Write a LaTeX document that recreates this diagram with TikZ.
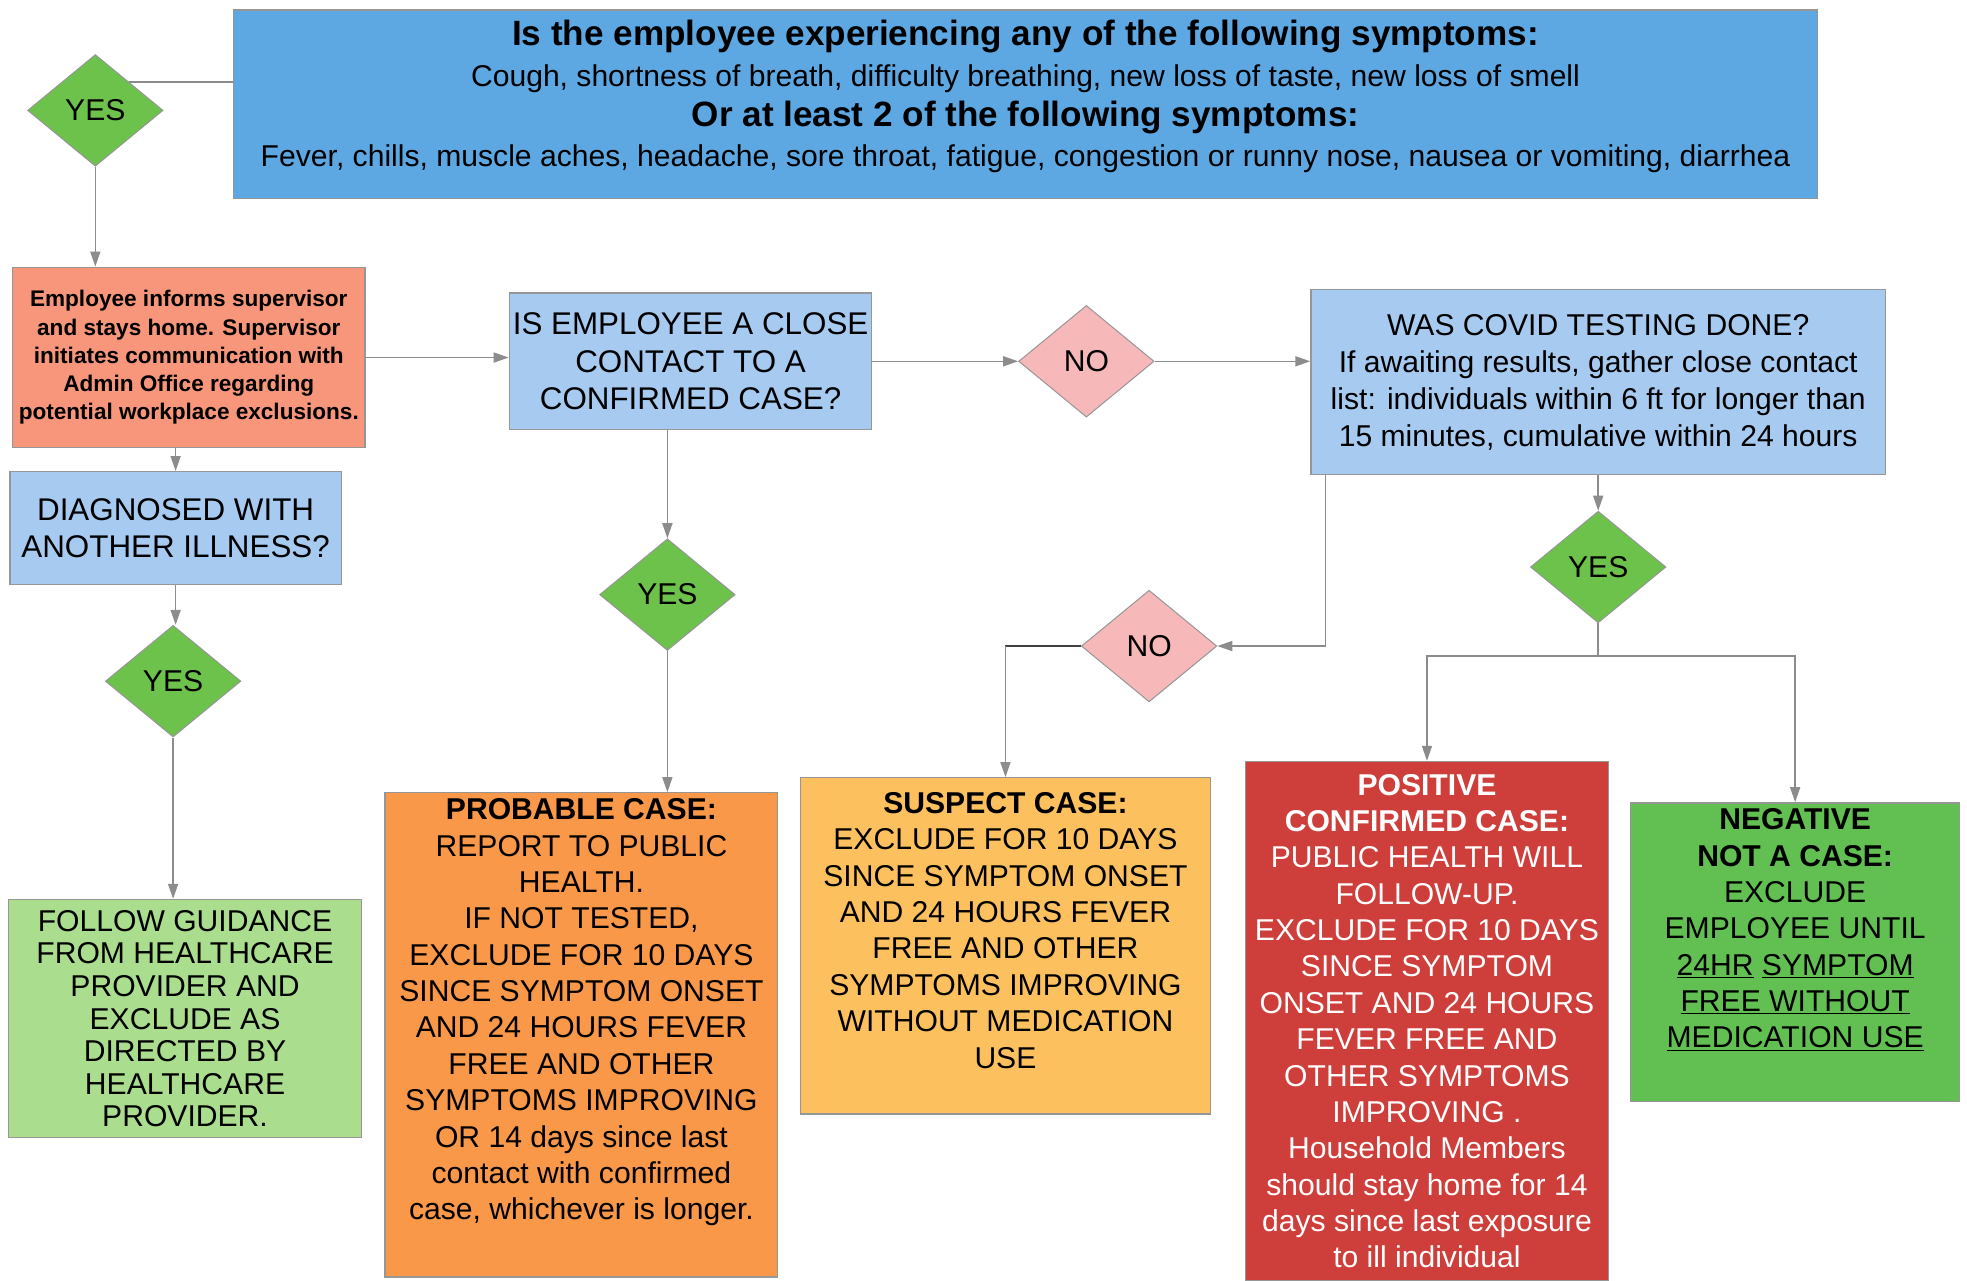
\documentclass[tikz,border=0pt]{standalone}
\usepackage{fontspec}
\setmainfont{Liberation Sans}
\usetikzlibrary{shapes.geometric,arrows.meta}

\definecolor{topblue}{RGB}{93,168,226}
\definecolor{askblue}{RGB}{166,202,240}
\definecolor{salmon}{RGB}{247,150,122}
\definecolor{yesgreen}{RGB}{108,194,74}
\definecolor{nopink}{RGB}{246,184,184}
\definecolor{guidegreen}{RGB}{170,222,142}
\definecolor{probable}{RGB}{248,152,72}
\definecolor{suspect}{RGB}{252,192,94}
\definecolor{posred}{RGB}{206,62,58}
\definecolor{neggreen}{RGB}{98,192,82}
\definecolor{edgegray}{RGB}{150,150,150}
\definecolor{wiregray}{RGB}{140,140,140}

\begin{document}
\begin{tikzpicture} [x = 1pt, y = -1pt,
  box/.style = {draw = edgegray, line width = 1pt, inner sep = 0pt, align = center, font = \fontsize{24}{29}\selectfont},
  choice/.style = {diamond, draw = edgegray, line width = 0.8pt, inner sep = 0pt, minimum width = 108pt, minimum height = 89pt, font = \fontsize{24}{29}\selectfont},
  yesdia/.style = {choice, fill = yesgreen},
  nodia/.style = {choice, fill = nopink},
  wire/.style = {draw = wiregray, line width = 1.2pt},
  flow/.style = {wire, -{Triangle[length = 12pt, width = 8pt]}}]
\useasboundingbox (0,0) rectangle (1568,1021);
% symptoms
\node[box, fill = topblue, minimum width = 1263pt, minimum height = 150pt, font = \fontsize{24}{32}\selectfont, text depth = 17pt] (symptoms) at (817.5,83)
  {{\fontsize{28}{32}\selectfont\bfseries Is the employee experiencing any of the following symptoms:}\\
   Cough, shortness of breath, difficulty breathing, new loss of taste, new loss of smell\\
   {\fontsize{28}{32}\selectfont\bfseries Or at least 2 of the following symptoms:}\\
   Fever, chills, muscle aches, headache, sore throat, fatigue, congestion or runny nose, nausea or vomiting, diarrhea};
\node[yesdia] (yestop) at (76,88) {YES};
% left column
\node[box, fill = salmon, minimum width = 281pt, minimum height = 144pt, font = \fontsize{18}{22.5}\selectfont\bfseries] (informs) at (150.5,285)
  {Employee informs supervisor\\ and stays home. Supervisor\\ initiates communication with\\ Admin Office regarding\\ potential workplace exclusions.};
\node[box, fill = askblue, minimum width = 264pt, minimum height = 90pt, font = \fontsize{25}{30}\selectfont] (illness) at (140,421)
  {DIAGNOSED WITH\\ ANOTHER ILLNESS?};
\node[yesdia] (yesill) at (138,543) {YES};
\node[box, fill = guidegreen, minimum width = 281pt, minimum height = 190pt, font = \fontsize{24}{26}\selectfont] (guidance) at (147.5,812)
  {FOLLOW GUIDANCE\\ FROM HEALTHCARE\\ PROVIDER AND\\ EXCLUDE AS\\ DIRECTED BY\\ HEALTHCARE\\ PROVIDER.};
% close contact
\node[box, fill = askblue, minimum width = 289pt, minimum height = 109pt, font = \fontsize{25}{30}\selectfont] (contact) at (550.5,288)
  {IS EMPLOYEE A CLOSE\\ CONTACT TO A\\ CONFIRMED CASE?};
\node[yesdia] (yescon) at (532,474) {YES};
\node[nodia] (nocon) at (866,288) {NO};
\node[box, fill = probable, minimum width = 313pt, minimum height = 386pt, text depth = 41pt] (probcase) at (463.5,825)
  {\textbf{PROBABLE CASE:}\\ REPORT TO PUBLIC\\ HEALTH.\\ IF NOT TESTED,\\ EXCLUDE FOR 10 DAYS\\ SINCE SYMPTOM ONSET\\ AND 24 HOURS FEVER\\ FREE AND OTHER\\ SYMPTOMS IMPROVING\\ OR 14 days since last\\ contact with confirmed\\ case, whichever is longer.};
% testing
\node[box, fill = askblue, minimum width = 458pt, minimum height = 147pt, font = \fontsize{24}{29.5}\selectfont] (testing) at (1274,304.5)
  {WAS COVID TESTING DONE?\\ If awaiting results, gather close contact\\ list: individuals within 6 ft for longer than\\ 15 minutes, cumulative within 24 hours};
\node[yesdia] (yestest) at (1274,452) {YES};
\node[nodia] (notest) at (916,515) {NO};
\node[box, fill = suspect, minimum width = 327pt, minimum height = 268pt, text depth = 25pt] (suscase) at (801.5,754)
  {\textbf{SUSPECT CASE:}\\ EXCLUDE FOR 10 DAYS\\ SINCE SYMPTOM ONSET\\ AND 24 HOURS FEVER\\ FREE AND OTHER\\ SYMPTOMS IMPROVING\\ WITHOUT MEDICATION\\ USE};
\node[box, fill = posred, text = white, minimum width = 289pt, minimum height = 414pt] (poscase) at (1137.5,814)
  {\textbf{POSITIVE}\\ \textbf{CONFIRMED CASE:}\\ PUBLIC HEALTH WILL\\ FOLLOW-UP.\\ EXCLUDE FOR 10 DAYS\\ SINCE SYMPTOM\\ ONSET AND 24 HOURS\\ FEVER FREE AND\\ OTHER SYMPTOMS\\ IMPROVING .\\ Household Members\\ should stay home for 14\\ days since last exposure\\ to ill individual};
\node[box, fill = neggreen, minimum width = 262pt, minimum height = 238pt, text depth = 38pt] (negcase) at (1431,759)
  {\textbf{NEGATIVE}\\ \textbf{NOT A CASE:}\\ EXCLUDE\\ EMPLOYEE UNTIL\\ \underline{24HR} \underline{SYMPTOM}\\ \underline{FREE WITHOUT}\\ \underline{MEDICATION USE}};
% connectors
\draw[wire] (symptoms.west |- yestop.north east) -- (yestop.north east);
\draw[flow] (yestop.south) -- (yestop.south |- informs.north);
\draw[flow] (informs.east) -- (informs.east -| contact.west);
\draw[flow] (illness.north |- informs.south) -- (illness.north);
\draw[flow] (illness.south) -- (illness.south |- yesill.north);
\draw[flow] (yesill.south) -- (yesill.south |- guidance.north);
\draw[flow] (yescon.north |- contact.south) -- (yescon.north);
\draw[flow] (yescon.south) -- (yescon.south |- probcase.north);
\draw[flow] (contact.east) -- (nocon.west);
\draw[flow] (nocon.east) -- (nocon.east -| testing.west);
\draw[flow] (testing.south) -- (yestest.north);
\coordinate (split) at (1274,523);
\draw[wire] (yestest.south) -- (split);
\draw[flow] (split) -| (poscase.north);
\draw[flow] (split) -| (negcase.north);
\draw[flow] ([xshift = 12pt]testing.south west) |- (notest.east);
\coordinate (bend) at (notest.west -| suscase.north);
\draw[wire, draw = black!75] (notest.west) -- (bend);
\draw[flow] (bend) -- (suscase.north);
\end{tikzpicture}
\end{document}
